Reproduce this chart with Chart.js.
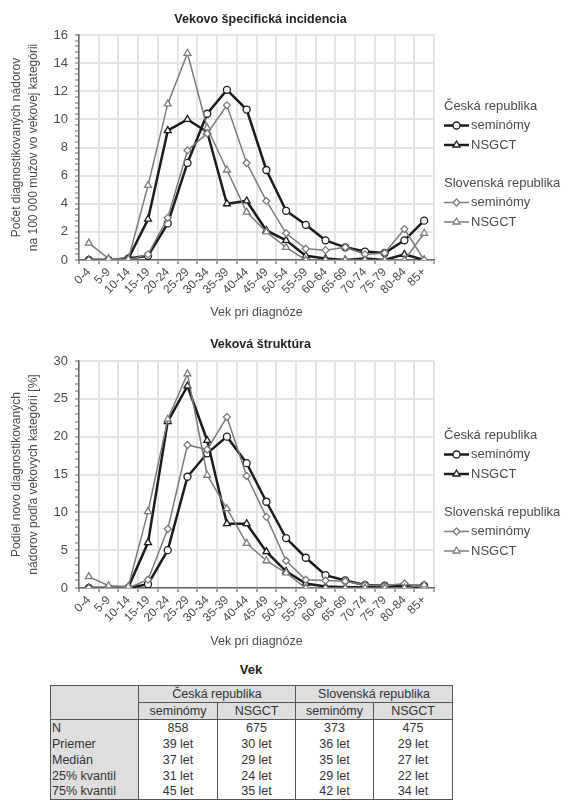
<!DOCTYPE html>
<html>
<head>
<meta charset="utf-8">
<script src="https://cdn.jsdelivr.net/npm/chart.js@4/dist/chart.umd.min.js"></script>
<style>
html,body{margin:0;padding:0;background:#fff;}
body{width:567px;height:801px;position:relative;overflow:hidden;font-family:"Liberation Sans",Arial,sans-serif;}
canvas{position:absolute;left:0;}
#c1{top:0;}
#c2{top:330px;}
#vek{position:absolute;top:662px;left:50px;width:402px;text-align:center;font-weight:bold;font-size:13px;color:#222;line-height:16px;}
#tbl{position:absolute;left:50px;top:685px;border-collapse:collapse;font-size:12.5px;color:#333;table-layout:fixed;border:1.5px solid #555;}
#tbl td{padding:0 2px;line-height:14px;text-align:center;border-left:1.5px solid #555;border-right:1.5px solid #555;white-space:nowrap;overflow:hidden;}
#tbl tr.h td{background:#dedede;border:1.5px solid #555;height:15px;}
#tbl tr.d td{height:15px;}
#tbl td.lab{background:#dedede;text-align:left;padding-left:1px;}
</style>
</head>
<body>
<canvas id="c1" width="567" height="330"></canvas>
<canvas id="c2" width="567" height="330"></canvas>
<div id="vek"></div>
<table id="tbl"></table>
<script>
// ---------- data ----------
const categories = ["0-4","5-9","10-14","15-19","20-24","25-29","30-34","35-39","40-44","45-49","50-54","55-59","60-64","65-69","70-74","75-79","80-84","85+"];

// Vekovo špecifická incidencia (na 100 000 mužov)
const incCzSem  = [0, 0, 0.1, 0.3, 2.6, 6.9, 10.4, 12.1, 10.7, 6.4, 3.5, 2.5, 1.4, 0.9, 0.6, 0.5, 1.4, 2.8];
const incCzNsg  = [0, 0, 0.1, 2.9, 9.2, 10.0, 9.1, 4.0, 4.2, 2.1, 1.4, 0.3, 0.1, 0, 0.1, 0, 0.4, 0];
const incSkSem  = [0, 0, 0, 0.4, 3.0, 7.8, 9.0, 11.0, 6.9, 4.2, 1.9, 0.8, 0.7, 0.9, 0.4, 0.5, 2.2, 0];
const incSkNsg  = [1.2, 0.1, 0.05, 5.3, 11.1, 14.7, 9.4, 6.4, 3.4, 2.0, 0.9, 0, 0, 0, 0, 0, 0, 1.9];

// Veková štruktúra (%)
const strCzSem  = [0, 0, 0, 0.5, 5.0, 14.7, 17.8, 20.0, 16.5, 11.4, 6.6, 4.0, 1.7, 1.0, 0.4, 0.3, 0.3, 0.3];
const strCzNsg  = [0, 0, 0.1, 6.0, 22.0, 26.7, 19.5, 8.5, 8.5, 4.8, 2.2, 0.6, 0.2, 0.1, 0.1, 0.1, 0.3, 0];
const strSkSem  = [0, 0, 0, 1.1, 7.8, 18.9, 18.3, 22.6, 14.8, 9.4, 3.6, 1.1, 1.0, 0.9, 0.4, 0.3, 0.6, 0];
const strSkNsg  = [1.5, 0.3, 0.2, 10.1, 22.3, 28.3, 14.9, 10.5, 5.9, 3.6, 2.0, 0, 0, 0, 0, 0, 0, 0.4];

const seriesNames = ["seminómy", "NSGCT"];
const groupNames = ["Česká republika", "Slovenská republika"];

const incMax = 16, incMajor = 2, incMinor = 0.4;
const strMax = 30, strMajor = 5, strMinor = 1;

// Tabuľka: Vek
const tableTitle = "Vek";
const tableRowLabels = ["N", "Priemer", "Medián", "25% kvantil", "75% kvantil"];
const tableCzSem = ["858", "39 let", "37 let", "31 let", "45 let"];
const tableCzNsg = ["675", "30 let", "29 let", "24 let", "35 let"];
const tableSkSem = ["373", "36 let", "35 let", "29 let", "42 let"];
const tableSkNsg = ["475", "29 let", "27 let", "22 let", "34 let"];

// ---------- style ----------
const FONT = '"Liberation Sans", Arial, sans-serif';
const DARK = '#1c1c1c', GREY = '#7c7c7c', TXT = '#4a4a4a', GRID = '#e4e4e4', AXIS = '#666';

function ds(label, data, dark, style) {
  return {
    label, data,
    borderColor: dark ? DARK : GREY,
    borderWidth: dark ? 2.5 : 1.5,
    pointStyle: style,
    pointRadius: style === 'triangle' ? 4 : 3.5,
    pointBackgroundColor: '#fff',
    pointBorderColor: dark ? DARK : GREY,
    pointBorderWidth: 1.3,
    tension: 0,
    fill: false
  };
}

const titlePlugin = {
  id: 'ctitle',
  afterDraw(chart, args, o) {
    const ctx = chart.ctx, a = chart.chartArea;
    ctx.save();
    ctx.font = 'bold 12.5px ' + FONT;
    ctx.fillStyle = '#222';
    ctx.textAlign = 'center';
    ctx.textBaseline = 'middle';
    ctx.fillText(o.text, (a.left + a.right) / 2 + 4, o.y);
    ctx.restore();
  }
};

const legendPlugin = {
  id: 'glegend',
  afterDraw(chart, args, o) {
    const ctx = chart.ctx;
    ctx.save();
    ctx.font = '13px ' + FONT;
    ctx.textBaseline = 'middle';
    ctx.textAlign = 'left';
    o.groups.forEach((g, gi) => {
      ctx.fillStyle = TXT;
      ctx.fillText(groupNames[gi], o.x, g.y);
      g.items.forEach((di, k) => {
        const d = chart.data.datasets[di];
        const y = g.y + o.step * (k + 1);
        ctx.strokeStyle = d.borderColor;
        ctx.lineWidth = d.borderWidth;
        ctx.beginPath();
        ctx.moveTo(o.x, y);
        ctx.lineTo(o.x + 25, y);
        ctx.stroke();
        ctx.fillStyle = '#fff';
        ctx.strokeStyle = d.pointBorderColor;
        ctx.lineWidth = d.pointBorderWidth;
        Chart.helpers.drawPoint(ctx, {pointStyle: d.pointStyle, radius: d.pointRadius, borderWidth: d.pointBorderWidth, rotation: 0}, o.x + 12.5, y);
        ctx.fillStyle = TXT;
        ctx.fillText(d.label, o.x + 27, y);
      });
    });
    ctx.restore();
  }
};

function makeChart(id, sets, yMax, major, minor, yTitle, cfg) {
  return new Chart(document.getElementById(id), {
    type: 'line',
    data: {
      labels: categories,
      datasets: [
        ds(seriesNames[1], sets[3], false, 'triangle'),
        ds(seriesNames[0], sets[2], false, 'rectRot'),
        ds(seriesNames[1], sets[1], true, 'triangle'),
        ds(seriesNames[0], sets[0], true, 'circle')
      ]
    },
    options: {
      responsive: false,
      animation: false,
      events: [],
      layout: {padding: {top: cfg.top, right: 133, left: 0, bottom: 0}},
      plugins: {
        legend: {display: false},
        tooltip: {enabled: false},
        ctitle: {text: cfg.title, y: cfg.titleY},
        glegend: {x: 444, step: 19.5, groups: [{y: cfg.legY1, items: [3, 2]}, {y: cfg.legY2, items: [1, 0]}]}
      },
      scales: {
        x: {
          offset: true,
          grid: {offset: true, color: GRID, lineWidth: 2, tickColor: AXIS, tickLength: 4, tickWidth: 1.2},
          border: {color: AXIS, width: 1.5},
          ticks: {autoSkip: false, minRotation: 45, maxRotation: 45, padding: 1, color: TXT, font: {family: FONT, size: 12}},
          title: {display: true, text: 'Vek pri diagnóze', color: TXT, font: {family: FONT, size: 12.5}, padding: {top: 0, bottom: cfg.xTitlePad}},
          afterFit(s) { s.height = cfg.xH; }
        },
        y: {
          min: 0, max: yMax,
          grid: {
            color: c => (Math.abs(c.tick.value / major - Math.round(c.tick.value / major)) < 1e-6) ? GRID : 'rgba(0,0,0,0)',
            lineWidth: 2, tickColor: AXIS, tickLength: 4, tickWidth: 1
          },
          border: {color: AXIS, width: 1.5},
          ticks: {
            stepSize: minor, autoSkip: false, padding: 7, color: TXT, font: {family: FONT, size: 13},
            callback: v => (Math.abs(v / major - Math.round(v / major)) < 1e-6) ? String(Math.round(v)) : ''
          },
          title: {display: true, text: yTitle, color: TXT, font: {family: FONT, size: 12, lineHeight: 1.4}, padding: {top: 8.6, bottom: 0}},
          afterFit(s) { s.width = 79; }
        }
      }
    },
    plugins: [titlePlugin, legendPlugin]
  });
}

makeChart('c1', [incCzSem, incCzNsg, incSkSem, incSkNsg], incMax, incMajor, incMinor,
  ['Počet diagnostikovaných nádorov', 'na 100 000 mužov vo vekovej kategórii'],
  {title: 'Vekovo špecifická incidencia', titleY: 20, top: 35, xH: 70, xTitlePad: 9.5, legY1: 106, legY2: 183});

makeChart('c2', [strCzSem, strCzNsg, strSkSem, strSkNsg], strMax, strMajor, strMinor,
  ['Podiel novo diagnostikovaných', 'nádorov podľa vekových kategórií [%]'],
  {title: 'Veková štruktúra', titleY: 15, top: 31, xH: 72, xTitlePad: 10.5, legY1: 105, legY2: 182});

// ---------- table ----------
document.getElementById('vek').textContent = tableTitle;
const tbl = document.getElementById('tbl');
const colW = [88, 79, 78, 78, 79];
let html = '<colgroup>' + colW.map(w => '<col style="width:' + w + 'px">').join('') + '</colgroup>';
html += '<tr class="h" style="height:17px"><td class="lab" rowspan="2"></td><td colspan="2">' + groupNames[0] + '</td><td colspan="2">' + groupNames[1] + '</td></tr>';
html += '<tr class="h" style="height:17px">' + [0,1,0,1].map(i => '<td>' + seriesNames[i] + '</td>').join('') + '</tr>';
tableRowLabels.forEach((lab, r) => {
  html += '<tr class="d" style="height:16px"><td class="lab">' + lab + '</td><td>' + tableCzSem[r] + '</td><td>' + tableCzNsg[r] + '</td><td>' + tableSkSem[r] + '</td><td>' + tableSkNsg[r] + '</td></tr>';
});
tbl.innerHTML = html;
</script>
</body>
</html>
